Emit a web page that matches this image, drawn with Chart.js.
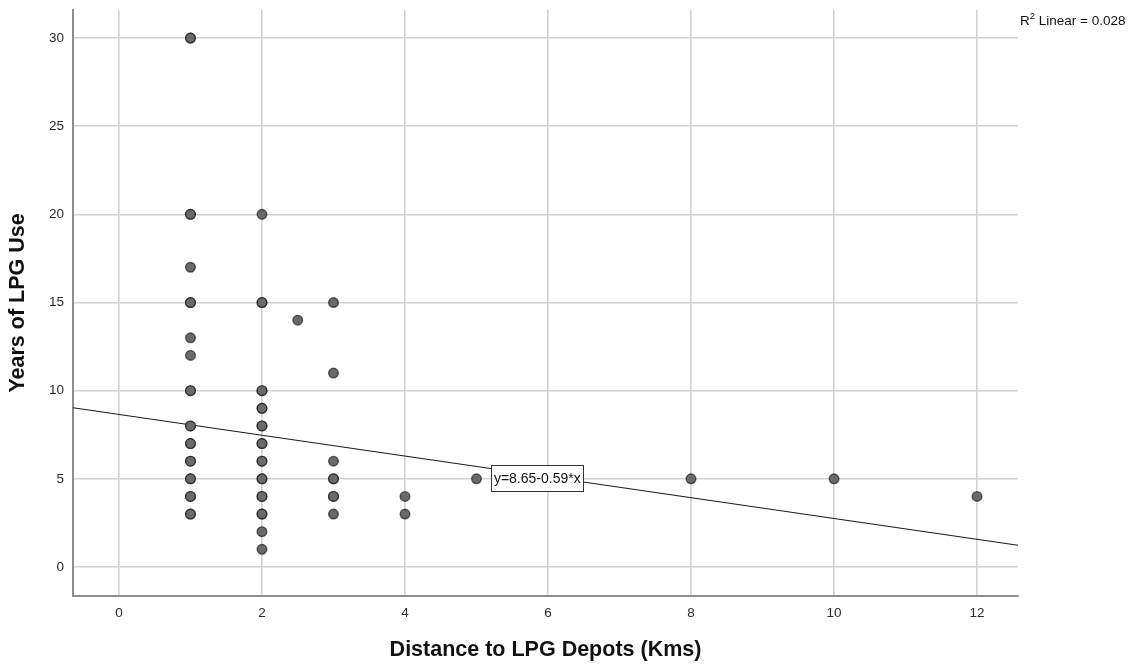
<!DOCTYPE html>
<html>
<head>
<meta charset="utf-8">
<script src="https://cdn.jsdelivr.net/npm/chart.js@4.4.1/dist/chart.umd.min.js"></script>
<style>
  html, body { margin: 0; padding: 0; background: #fff; }
  #wrap { width: 1139px; height: 665px; position: relative; }
</style>
</head>
<body>
<div id="wrap"><canvas id="lpgChart"></canvas></div>
<script>
// distance to depot (km) and years of LPG use, one entry per respondent
const distanceKm = [
    1, 1, 1, 1, 1, 1, 1, 1, 1, 1, 1, 1, 1, 1, 1, 1, 1, 1, 1, 1, 1, 1, 1,
    2, 2, 2, 2, 2, 2, 2, 2, 2, 2, 2, 2, 2, 2, 2, 2, 2, 2, 2, 2, 2,
    2.5,
    3, 3, 3, 3, 3, 3, 3, 3,
    4, 4,
    5, 8, 10, 12
];
const yearsUse = [
    30, 30, 20, 20, 17, 15, 15, 13, 12, 10, 10, 8, 8, 7, 7, 6, 6, 5, 5, 4, 4, 3, 3,
    20, 15, 15, 10, 10, 9, 9, 8, 8, 7, 7, 6, 6, 5, 5, 4, 4, 3, 3, 2, 1,
    14,
    15, 11, 6, 5, 5, 4, 4, 3,
    4, 3,
    5, 5, 5, 4
];

// linear fit
const fitIntercept = 8.65;
const fitSlope = -0.59;
const fitR2 = 0.028;

const xTicks = [0, 2, 4, 6, 8, 10, 12];
const yTicks = [0, 5, 10, 15, 20, 25, 30];

const xMin = -0.643, xMax = 12.573;
const yMin = -1.645, yMax = 31.59;

const points = distanceKm.map((d, i) => ({ x: d, y: yearsUse[i] }));
const fitLine = [xMin, xMax].map(x => ({ x: x, y: fitIntercept + fitSlope * x }));

const fontFamily = '"Liberation Sans", Arial, sans-serif';

// equation box on the line and R2 note in the corner
const fitLabels = {
    id: 'fitLabels',
    afterDatasetsDraw(chart, args, opts) {
        const c = chart.ctx;
        const xs = chart.scales.x, ys = chart.scales.y;
        const text = 'y=' + fitIntercept.toFixed(2) + '-' + Math.abs(fitSlope).toFixed(2) + '*x';
        c.save();
        c.font = '14px ' + fontFamily;
        const w = c.measureText(text).width + 5;
        const h = 26;
        const cx = xs.getPixelForValue(opts.labelX);
        const cy = ys.getPixelForValue(opts.labelY);
        c.fillStyle = '#fff';
        c.fillRect(cx - w / 2, cy - h / 2, w, h);
        c.strokeStyle = '#333';
        c.lineWidth = 1;
        c.strokeRect(Math.round(cx - w / 2) + 0.5, Math.round(cy - h / 2) + 0.5, Math.round(w), h);
        c.fillStyle = '#111';
        c.textBaseline = 'middle';
        c.textAlign = 'center';
        c.fillText(text, cx, cy + 1);

        // R2 Linear in the top right
        let x = chart.chartArea.right + 2;
        const base = 25;
        c.textAlign = 'left';
        c.textBaseline = 'alphabetic';
        c.font = '13.5px ' + fontFamily;
        c.fillText('R', x, base);
        x += c.measureText('R').width;
        c.font = '9.5px ' + fontFamily;
        c.fillText('2', x, base - 6);
        x += c.measureText('2').width;
        c.font = '13.5px ' + fontFamily;
        c.fillText(' Linear = ' + fitR2.toFixed(3), x, base);
        c.restore();
    }
};

var ctx = document.getElementById('lpgChart').getContext('2d');

const lpgChart = new Chart(ctx, {
    type: 'scatter',
    data: {
        datasets: [{
            label: 'Years of LPG Use',
            data: points,
            backgroundColor: '#6a6a6a',
            borderColor: 'rgba(20,20,20,0.65)',
            borderWidth: 1.4,
            pointRadius: 4.8,
            pointHoverRadius: 4.8,
        }, {
            label: 'Fit',
            type: 'line',
            data: fitLine,
            borderColor: '#1a1a1a',
            borderWidth: 1.1,
            pointRadius: 0,
            fill: false,
        }]
    },
    options: {
        responsive: true,
        maintainAspectRatio: false,
        animation: false,
        layout: {
            padding: { top: 10, right: 121, left: 0, bottom: 0 }
        },
        plugins: {
            legend: { display: false },
            tooltip: { enabled: false },
            fitLabels: { labelX: 5.85, labelY: 5.05 }
        },
        scales: {
            x: {
                type: 'linear',
                min: xMin,
                max: xMax,
                afterFit: (scale) => {
                    scale.height = 69;
                    scale.paddingLeft = 0;
                    scale.paddingRight = 0;
                },
                afterBuildTicks: (scale) => { scale.ticks = xTicks.map(v => ({ value: v })); },
                border: { color: '#8c8c8c', width: 2 },
                grid: { color: '#d2d2d2', lineWidth: 1.6, drawTicks: false },
                ticks: {
                    padding: 9,
                    color: '#2a2a2a',
                    font: { size: 13.5, family: fontFamily }
                },
                title: {
                    display: true,
                    text: 'Distance to LPG Depots (Kms)',
                    color: '#111',
                    font: { size: 21.5, weight: 'bold', family: fontFamily },
                    padding: { top: 0, bottom: 2 }
                }
            },
            y: {
                type: 'linear',
                min: yMin,
                max: yMax,
                afterFit: (scale) => {
                    scale.width = 73;
                    scale.paddingTop = 0;
                    scale.paddingBottom = 0;
                },
                afterBuildTicks: (scale) => { scale.ticks = yTicks.map(v => ({ value: v })); },
                border: { color: '#8c8c8c', width: 2 },
                grid: { color: '#d2d2d2', lineWidth: 1.6, drawTicks: false },
                ticks: {
                    padding: 9,
                    color: '#2a2a2a',
                    font: { size: 13.5, family: fontFamily }
                },
                title: {
                    display: true,
                    text: 'Years of LPG Use',
                    color: '#111',
                    font: { size: 21.5, weight: 'bold', family: fontFamily },
                    padding: { top: 5, bottom: 0 }
                }
            }
        }
    },
    plugins: [fitLabels]
});
</script>
</body>
</html>
